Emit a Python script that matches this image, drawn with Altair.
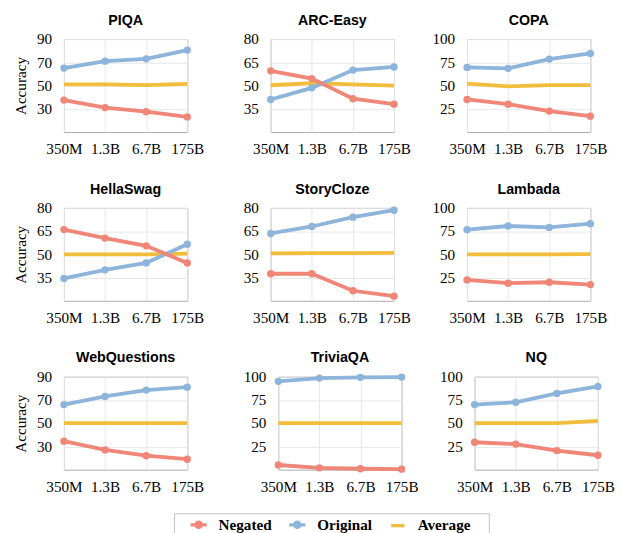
import math
import altair as alt
import pandas as pd

sizes = ["350M", "1.3B", "6.7B", "175B"]
series_names = ["Negated", "Original", "Average"]
colors = ["#EF8677", "#8DB4DB", "#F1BD3B"]

tasks = ["PIQA", "ARC-Easy", "COPA", "HellaSwag", "StoryCloze", "Lambada",
         "WebQuestions", "TriviaQA", "NQ"]

negated = {
    "PIQA": [37.5, 31, 27.5, 23],
    "ARC-Easy": [59.5, 54.5, 41.5, 38],
    "COPA": [35, 30, 22.5, 17],
    "HellaSwag": [66, 60.5, 55.5, 44.5],
    "StoryCloze": [37.5, 37.5, 26.5, 23],
    "Lambada": [22.5, 19, 20, 17.5],
    "WebQuestions": [34.5, 27, 22, 19],
    "TriviaQA": [5, 2, 1, 0.5],
    "NQ": [29.5, 27.5, 20.5, 15.5],
}
original = {
    "PIQA": [65, 71, 73, 80.5],
    "ARC-Easy": [41, 48.5, 60, 62],
    "COPA": [69.5, 68.5, 78.5, 84.5],
    "HellaSwag": [34.5, 40, 44.5, 56.5],
    "StoryCloze": [63.5, 68, 74, 78.5],
    "Lambada": [76.5, 80.5, 79, 83],
    "WebQuestions": [66, 73, 78.5, 81],
    "TriviaQA": [95, 98.5, 99.3, 99.6],
    "NQ": [70, 72.5, 82, 89.5],
}
average = {
    "PIQA": [51, 51, 50.3, 51.5],
    "ARC-Easy": [50.2, 51.5, 50.8, 50],
    "COPA": [52, 49, 50.5, 50.5],
    "HellaSwag": [50, 50, 50, 50.5],
    "StoryCloze": [50.6, 50.8, 50.8, 51],
    "Lambada": [50, 50, 50, 50.3],
    "WebQuestions": [50, 50, 50, 50],
    "TriviaQA": [50, 50, 50, 50],
    "NQ": [50, 50, 50, 52.5],
}
y_ticks = {
    "PIQA": [30, 50, 70, 90],
    "ARC-Easy": [35, 50, 65, 80],
    "COPA": [25, 50, 75, 100],
    "HellaSwag": [35, 50, 65, 80],
    "StoryCloze": [35, 50, 65, 80],
    "Lambada": [25, 50, 75, 100],
    "WebQuestions": [30, 50, 70, 90],
    "TriviaQA": [25, 50, 75, 100],
    "NQ": [25, 50, 75, 100],
}
y_domains = {
    "PIQA": [10, 90],
    "ARC-Easy": [20, 80],
    "COPA": [0, 100],
    "HellaSwag": [20, 80],
    "StoryCloze": [20, 80],
    "Lambada": [0, 100],
    "WebQuestions": [10, 90],
    "TriviaQA": [0, 100],
    "NQ": [0, 100],
}

SERIF = "Liberation Serif"
SANS = "Liberation Sans"


def poly(cx, r, n=16):
    pts = []
    for i in range(n):
        a = 2 * math.pi * i / n
        pts.append(f"{cx + r * math.cos(a):.3f},{r * math.sin(a):.3f}")
    return "M" + " L".join(pts) + " Z"


SHIFT = 1.75
line_path = f"M{SHIFT - 1.06:.3f},0 L{SHIFT + 1.06:.3f},0"
dot_path = line_path + " " + poly(SHIFT, 0.34) + " " + poly(SHIFT, 0.12, 8)
avg_path = f"M{SHIFT - 0.88:.3f},0 L{SHIFT + 0.88:.3f},0"

# zero-width title on the right of the legend, used only to widen the legend box
BLANK = "\u200b"


def panel(task, col):
    recs = []
    for s, vals in (("Negated", negated[task]), ("Original", original[task]),
                    ("Average", average[task])):
        for sz, v in zip(sizes, vals):
            recs.append({"size": sz, "series": s, "acc": v})
    df = pd.DataFrame(recs)

    if col == 0:
        yaxis = alt.Axis(values=y_ticks[task], title="Accuracy", titleFont=SERIF,
                         titleFontSize=16, titleFontWeight="normal", titleColor="#000",
                         titlePadding=9, labelPadding=13)
    elif col == 1:
        yaxis = alt.Axis(values=y_ticks[task], title="Accuracy", titleOpacity=0,
                         titleFontSize=16, titlePadding=3, labelPadding=13)
    else:
        yaxis = alt.Axis(values=y_ticks[task], title=None, labelPadding=13)

    x = alt.X("size:N", sort=sizes, scale=alt.Scale(type="point", padding=0),
              axis=alt.Axis(title=None, labelAngle=0, labelPadding=10, labelOverlap=False))
    y = alt.Y("acc:Q", scale=alt.Scale(domain=y_domains[task], nice=False, zero=False),
              axis=yaxis)
    base = alt.Chart(df).encode(x=x, y=y)

    def sel(name):
        return base.transform_filter(f"datum.series == '{name}'")

    layers = [
        sel("Average").mark_line(strokeWidth=4, color=colors[2]),
        sel("Original").mark_line(strokeWidth=4, color=colors[1]),
        sel("Original").mark_point(filled=True, size=60, opacity=1, color=colors[1]),
        sel("Negated").mark_line(strokeWidth=4, color=colors[0]),
        sel("Negated").mark_point(filled=True, size=60, opacity=1, color=colors[0]),
    ]
    if task == "NQ":
        leg_kwargs = dict(
            orient="none", legendX=116, legendY=500, direction="horizontal",
            title=BLANK, titleOrient="right", titlePadding=17, titleFontSize=16,
        )
        legend_layer = alt.Chart(pd.DataFrame({"series": series_names})).mark_point(
            filled=False, opacity=0
        ).encode(
            x=alt.value(0), y=alt.value(0),
            color=alt.Color("series:N", scale=alt.Scale(domain=series_names, range=colors),
                            legend=alt.Legend(**leg_kwargs)),
            shape=alt.Shape("series:N", scale=alt.Scale(domain=series_names,
                                                        range=[dot_path, dot_path, avg_path]),
                            legend=alt.Legend(**leg_kwargs)),
        )
        layers.append(legend_layer)
    return alt.layer(*layers).properties(
        width=130, height=98,
        title=alt.Title(task, font=SANS, fontSize=15, fontWeight="bold", color="#000",
                        offset=4, anchor="middle"),
    )


rows = []
for r in range(3):
    rows.append(alt.hconcat(*[panel(tasks[r * 3 + c], c) for c in range(3)], spacing=21))

chart = alt.vconcat(*rows, spacing=25).properties(
    padding={"left": 4, "top": -10, "right": 0, "bottom": 0}
).configure_view(
    stroke="#a8a8a8", strokeWidth=1
).configure_axis(
    domain=False, ticks=False, grid=True, gridColor="#e6e6e6", gridWidth=1,
    labelFont=SERIF, labelFontSize=16, labelColor="#000",
).configure_legend(
    padding=2, strokeColor="#bdbdbd", strokeWidth=1,
    symbolSize=256, symbolStrokeWidth=3.5, symbolOpacity=1,
    labelFont=SERIF, labelFontSize=16, labelFontWeight="bold", labelColor="#000",
    labelOffset=25, columnPadding=3, labelLimit=200,
)

chart.save("out.html", embed_options={"renderer": "svg", "actions": False})
